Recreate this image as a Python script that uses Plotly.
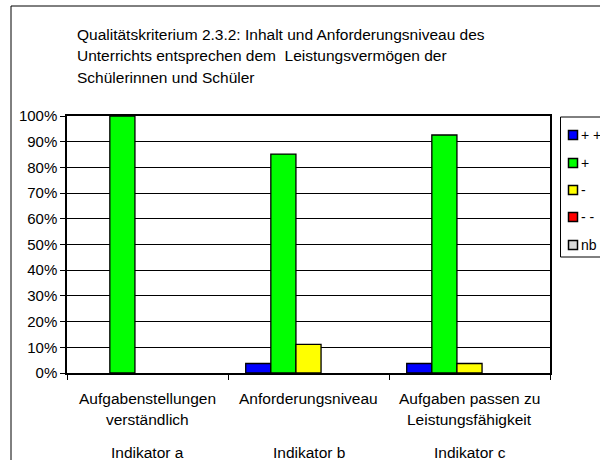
import plotly.graph_objects as go

categories = ["Indikator a", "Indikator b", "Indikator c"]
cat_line1 = ["Aufgabenstellungen", "Anforderungsniveau", "Aufgaben passen zu"]
cat_line2 = ["verständlich", "", "Leistungsfähigkeit"]
series_names = ["+ +", "+", "-", "- -", "nb"]
series_colors = ["#0000FF", "#00FF00", "#FFFF00", "#FF0000", "#D9D9D9"]
values_pp = [0.0, 3.7, 3.7]
values_p = [100.0, 85.2, 92.6]
values_m = [0.0, 11.1, 3.7]
values_mm = [0.0, 0.0, 0.0]
values_nb = [0.0, 0.0, 0.0]
all_values = [values_pp, values_p, values_m, values_mm, values_nb]
title_lines = [
    "Qualitätskriterium 2.3.2: Inhalt und Anforderungsniveau des",
    "Unterrichts entsprechen dem  Leistungsvermögen der",
    "Schülerinnen und Schüler",
]
y_ticks = list(range(0, 101, 10))

FONT = "Liberation Sans, Arial, sans-serif"
L, R, T, B = 67, 50, 116, 87
PW, PH = 600 - L - R, 460 - T - B


def px_x(px):
    return (px - L) / PW


def px_y(py):
    return (460 - B - py) / PH


fig = go.Figure()
for i, (name, color, vals) in enumerate(zip(series_names, series_colors, all_values)):
    fig.add_trace(go.Bar(
        x=categories, y=vals, name=name,
        marker=dict(color=color,
                    line=dict(color="black", width=[1.3 if v > 0 else 0 for v in vals])),
        showlegend=False,
    ))

annotations = []
title_py = [34, 56, 77]
for i, line in enumerate(title_lines):
    annotations.append(dict(
        text=line, xref="paper", yref="paper", x=px_x(75), y=px_y(title_py[i]),
        xanchor="left", yanchor="middle",
        showarrow=False, font=dict(size=15.5, family=FONT, color="black"),
    ))
for c, l1, l2 in zip(categories, cat_line1, cat_line2):
    for txt, py in [(l1, 398), (l2, 419), (c, 452)]:
        if txt:
            annotations.append(dict(
                text=txt, xref="x", yref="paper", x=c, y=px_y(py),
                xanchor="center", yanchor="middle",
                showarrow=False, font=dict(size=15.5, family=FONT, color="black"),
            ))

shapes = [dict(
    type="rect", xref="paper", yref="paper",
    x0=px_x(11), x1=px_x(660), y0=px_y(520), y1=px_y(6),
    line=dict(color="black", width=1), fillcolor="rgba(0,0,0,0)", layer="below",
)]
# custom legend box
shapes.append(dict(
    type="rect", xref="paper", yref="paper",
    x0=px_x(560.5), x1=px_x(640), y0=px_y(257), y1=px_y(117),
    line=dict(color="black", width=1), fillcolor="white", layer="above",
))
legend_py = [135, 163, 190, 217, 245]
for name, color, py in zip(series_names, series_colors, legend_py):
    shapes.append(dict(
        type="rect", xref="paper", yref="paper",
        x0=px_x(568.5), x1=px_x(577.5), y0=px_y(py + 4.5), y1=px_y(py - 4.5),
        line=dict(color="black", width=1.5), fillcolor=color, layer="above",
    ))
    annotations.append(dict(
        text=name, xref="paper", yref="paper", x=px_x(579), y=px_y(py),
        xanchor="left", yanchor="middle", showarrow=False,
        font=dict(size=14, family=FONT, color="black"),
    ))

fig.update_layout(
    width=600, height=460,
    margin=dict(l=L, r=R, t=T, b=B, autoexpand=False),
    paper_bgcolor="white", plot_bgcolor="white",
    font=dict(family=FONT, size=15, color="black"),
    barmode="group", bargap=0.22, bargroupgap=0,
    showlegend=False,
    annotations=annotations,
    shapes=shapes,
)
fig.update_xaxes(
    type="category", tickson="boundaries", ticks="outside", ticklen=5,
    tickcolor="black", showticklabels=False, showgrid=False,
    showline=True, linecolor="black", linewidth=1.5, mirror=True,
)
fig.update_yaxes(
    range=[0, 100], tickvals=y_ticks, ticktext=[f"{v}%" for v in y_ticks],
    ticks="outside", ticklen=5, tickcolor="black",
    showgrid=True, gridcolor="black", gridwidth=1,
    showline=True, linecolor="black", linewidth=1.5, mirror=True,
    tickfont=dict(size=15, family=FONT, color="black"), zeroline=False,
    automargin=False,
)

fig.write_html(
    "out.html",
    config={"displayModeBar": False},
    post_script="document.body.style.margin='0';document.body.style.overflow='hidden';",
)
